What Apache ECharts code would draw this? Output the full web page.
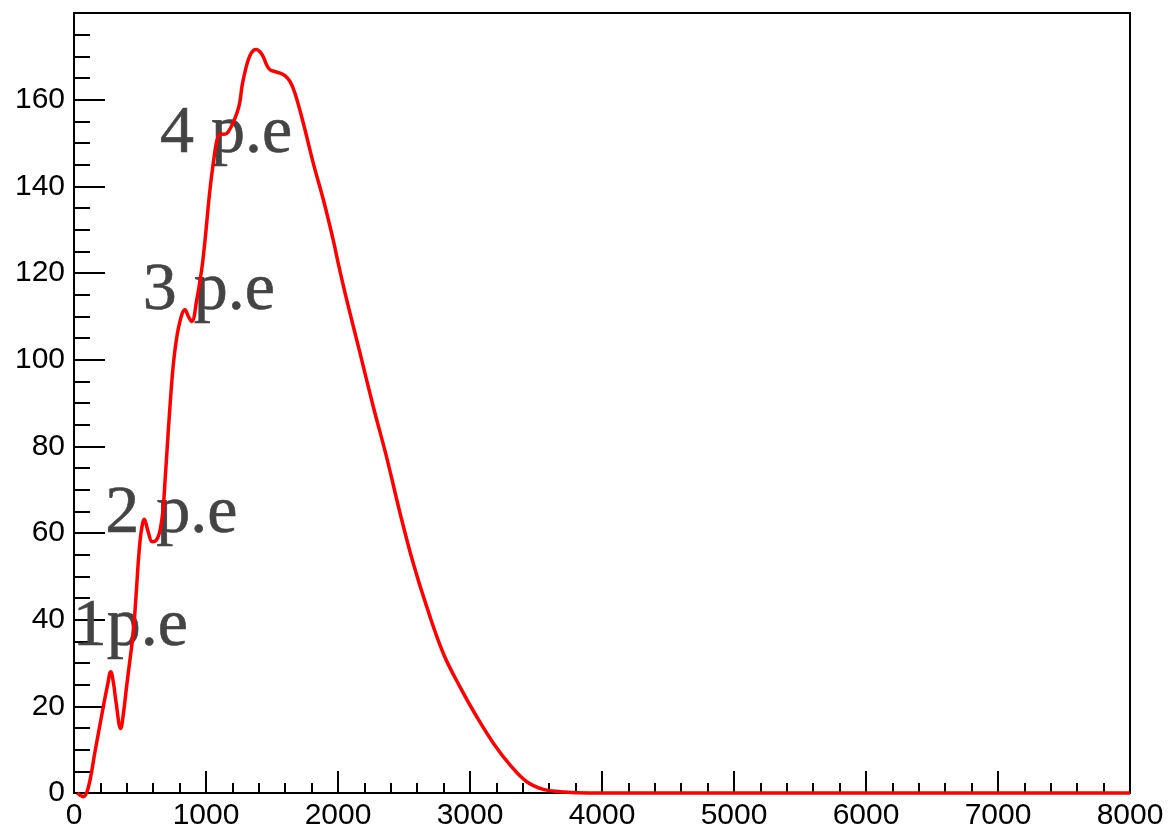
<!DOCTYPE html>
<html>
<head>
<meta charset="utf-8">
<script src="https://cdn.jsdelivr.net/npm/echarts@6/dist/echarts.min.js"></script>
<style>
  html, body { margin: 0; padding: 0; background: #ffffff; }
  #main { width: 1168px; height: 831px; }
</style>
</head>
<body>
<div id="main"></div>
<script>
// Charge spectrum: x = charge (ADC), y = counts
const xValues = [
  25, 50, 70, 108, 160, 222, 255, 278, 300, 316, 354, 375, 400, 425, 449, 470,
  490, 510, 533, 560, 593, 620, 645, 665, 677, 690, 740, 765, 800, 841, 866,
  892, 930, 967, 985, 1055, 1111, 1140, 1169, 1210, 1250, 1275, 1300, 1330,
  1360, 1384, 1410, 1434, 1460, 1485, 1520, 1561, 1600, 1636, 1674, 1737, 1813,
  1889, 1964, 2002, 2066, 2167, 2267, 2369, 2470, 2570, 2672, 2798, 2924, 3051,
  3177, 3303, 3430, 3556, 3682, 3808, 4000, 5000, 6000, 7000, 8000
];
const yValues = [
  0.0, -0.6, -0.85, 1.2, 9.7, 19.9, 25.0, 28.0, 25.2, 21.5, 14.9, 18.5, 25.0, 31.0, 37.0, 45.5,
  54.5, 60.5, 63.2, 60.5, 58.0, 58.2, 59.8, 63.0, 66.1, 72.2, 94.6, 102.2, 108.5, 111.5, 110.0,
  108.8, 113.8, 120.7, 125.3, 145.3, 152.1, 152.0, 152.6, 155.0, 158.5, 163.5, 167.0, 170.0,
  171.4, 171.6, 171.0, 169.9, 168.0, 166.9, 166.5, 166.1, 165.5, 164.2, 161.5, 154.6, 145.3,
  136.9, 127.6, 122.2, 113.8, 101.5, 89.2, 77.4, 64.6, 53.0, 43.0, 32.2, 24.5, 17.6,
  11.5, 6.5, 2.6, 0.85, 0.3, 0.08, 0.0, 0.0, 0.0, 0.0, 0.0
];

// Photo-electron peak annotations (anchor: left edge, vertical middle of text)
const peakLabels = ['1p.e', '2 p.e', '3 p.e', '4 p.e'];
const peakLabelX = [-6, 240, 525, 655];
const peakLabelY = [38.1, 64.3, 115.8, 152.0];

// Axis ranges and tick spacing
const xRange = [0, 8000];
const xStep = 1000;
const yRange = [0, 180];
const yStep = 20;

const chart = echarts.init(document.getElementById('main'), null, { renderer: 'canvas' });

const curve = xValues.map((x, i) => [x, yValues[i]]);
const notes = peakLabels.map((t, i) => ({ name: t, value: [peakLabelX[i], peakLabelY[i]] }));

const black = '#000000';
const labelFont = { color: black, fontFamily: 'Liberation Sans', fontSize: 30, formatter: v => String(v) };
const noteColor = '#444444';

chart.setOption({
  animation: false,
  backgroundColor: '#ffffff',
  grid: {
    left: 74, top: 13, width: 1056, height: 780,
    show: true, borderColor: black, borderWidth: 2, backgroundColor: 'transparent'
  },
  xAxis: {
    type: 'value',
    min: xRange[0], max: xRange[1], interval: xStep,
    axisLine: { show: true, onZero: false, lineStyle: { color: black, width: 2 } },
    axisTick: { show: true, inside: true, length: 22, lineStyle: { color: black, width: 2 } },
    minorTick: { show: true, splitNumber: 5, length: 10, lineStyle: { color: black, width: 2 } },
    splitLine: { show: false },
    minorSplitLine: { show: false },
    axisLabel: Object.assign({ margin: 8 }, labelFont)
  },
  yAxis: {
    type: 'value',
    min: yRange[0], max: yRange[1], interval: yStep,
    axisLine: { show: true, onZero: false, lineStyle: { color: black, width: 2 } },
    axisTick: { show: true, inside: true, length: 31, lineStyle: { color: black, width: 2 } },
    minorTick: { show: true, splitNumber: 4, length: 16, lineStyle: { color: black, width: 2 } },
    splitLine: { show: false },
    minorSplitLine: { show: false },
    axisLabel: Object.assign({ margin: 9, showMaxLabel: false }, labelFont)
  },
  series: [
    {
      type: 'scatter',
      data: notes,
      symbolSize: 1,
      itemStyle: { color: 'rgba(0,0,0,0)', opacity: 1 },
      silent: true,
      clip: false,
      z: 2,
      label: {
        show: true,
        position: [0, 0],
        align: 'left',
        verticalAlign: 'middle',
        formatter: p => p.name,
        fontFamily: 'Liberation Serif',
        fontSize: 68,
        color: noteColor,
        textBorderColor: noteColor,
        textBorderWidth: 0.6
      },
      labelLayout: { hideOverlap: false }
    },
    {
      type: 'line',
      data: curve,
      smooth: 0.4,
      symbol: 'none',
      clip: false,
      z: 5,
      lineStyle: { color: '#ff0000', width: 3.5 }
    }
  ]
});
</script>
</body>
</html>
